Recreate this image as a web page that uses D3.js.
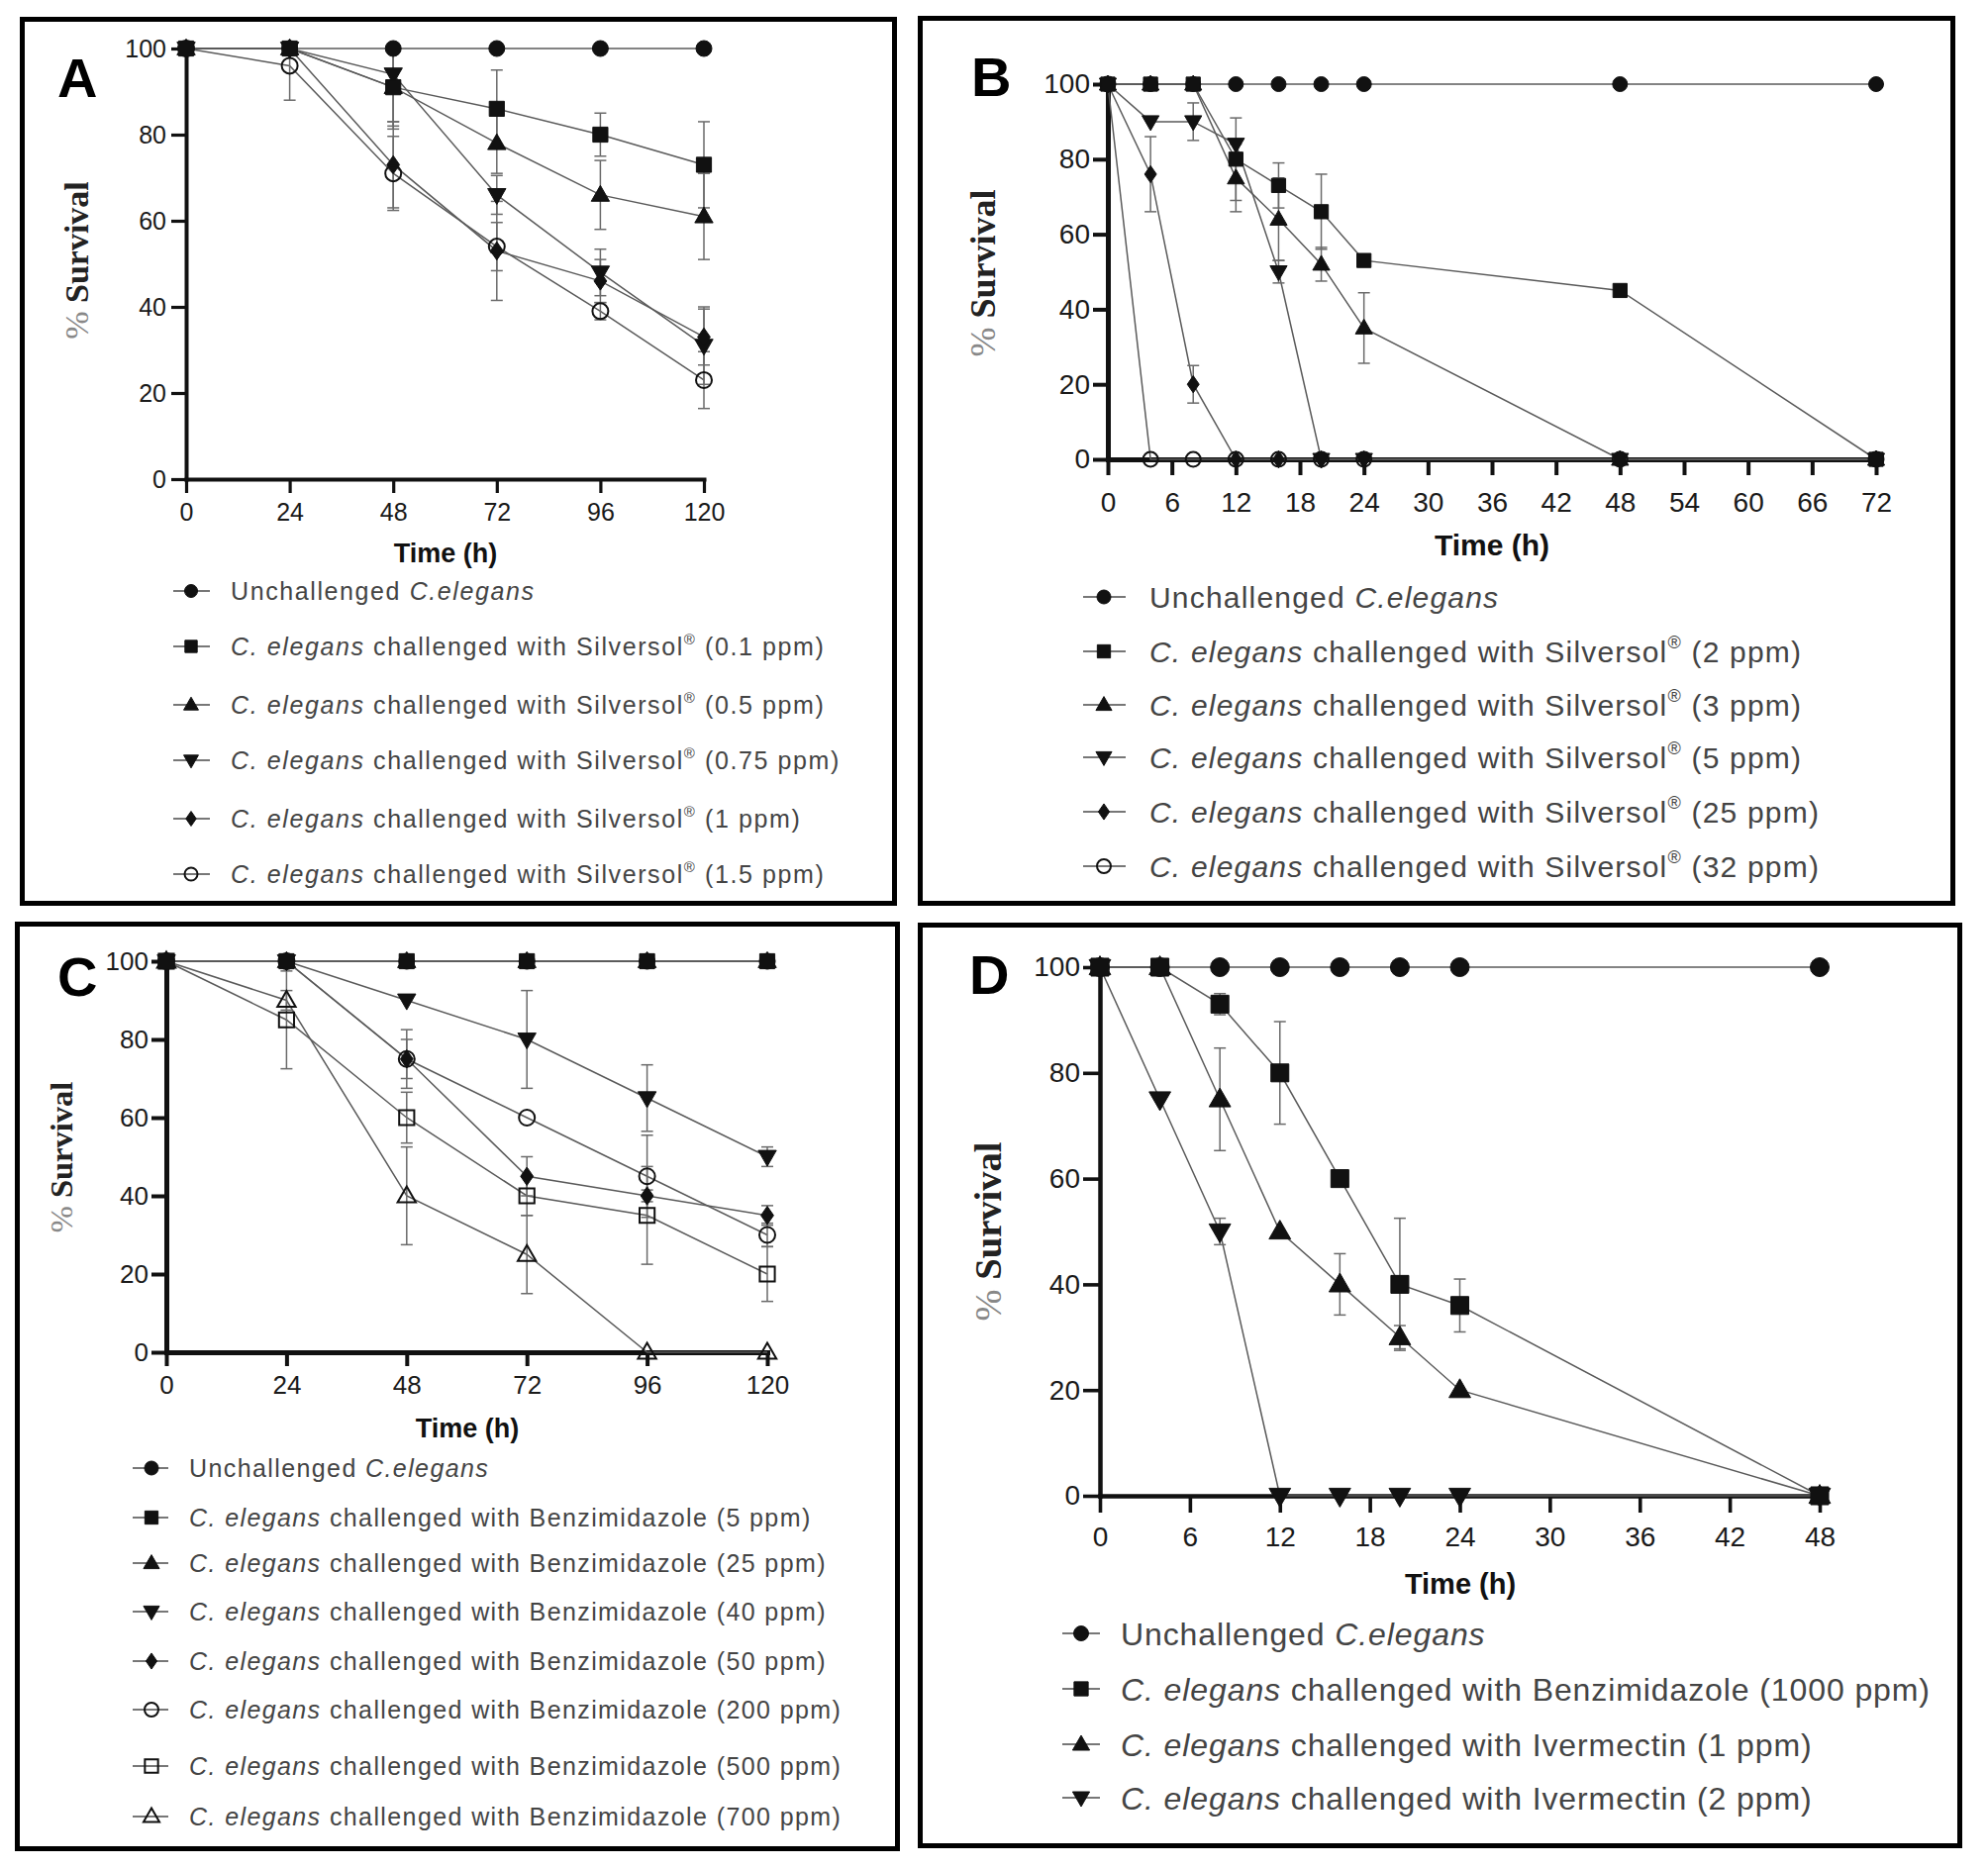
<!DOCTYPE html>
<html><head><meta charset="utf-8">
<script src="https://cdn.jsdelivr.net/npm/d3@7"></script>
<style>body{margin:0;background:#fff} svg{display:block} text{white-space:pre}</style>
</head><body>
<svg id="c" width="2008" height="1887"></svg>
<script>
// ================= DATA =================
const yTicks = [0, 20, 40, 60, 80, 100];

// Panel A
const timesA = [0, 24, 48, 72, 96, 120];
const xTicksA = [0, 24, 48, 72, 96, 120];
const labelsA = [
  "Unchallenged C.elegans",
  "C. elegans challenged with Silversol® (0.1 ppm)",
  "C. elegans challenged with Silversol® (0.5 ppm)",
  "C. elegans challenged with Silversol® (0.75 ppm)",
  "C. elegans challenged with Silversol® (1 ppm)",
  "C. elegans challenged with Silversol® (1.5 ppm)"
];
const valuesA = [
  [100, 100, 100, 100, 100, 100],
  [100, 100, 91, 86, 80, 73],
  [100, 100, 91, 78, 66, 61],
  [100, 100, 94, 66, 48, 31],
  [100, 100, 73, 53, 46, 33],
  [100, 96, 71, 54, 39, 23]
];
const errorsA = [
  [0, 0, 0, 0, 0, 0],
  [0, 0, 8, 9, 5, 10],
  [0, 0, 9, 7, 8, 10],
  [0, 0, 12.7, 4.5, 5.4, 9],
  [0, 0, 10, 11.5, 5, 6.5],
  [0, 8, 8.6, 5.6, 2, 6.6]
];

// Panel B
const timesB = [0, 4, 8, 12, 16, 20, 24, 48, 72];
const xTicksB = [0, 6, 12, 18, 24, 30, 36, 42, 48, 54, 60, 66, 72];
const labelsB = [
  "Unchallenged C.elegans",
  "C. elegans challenged with Silversol® (2 ppm)",
  "C. elegans challenged with Silversol® (3 ppm)",
  "C. elegans challenged with Silversol® (5 ppm)",
  "C. elegans challenged with Silversol® (25 ppm)",
  "C. elegans challenged with Silversol® (32 ppm)"
];
const valuesB = [
  [100, 100, 100, 100, 100, 100, 100, 100, 100],
  [100, 100, 100, 80, 73, 66, 53, 45, 0],
  [100, 100, 100, 75, 64, 52, 35, 0, 0],
  [100, 90, 90, 84, 50, 0, 0, 0, 0],
  [100, 76, 20, 0, 0, 0, 0, 0, 0],
  [100, 0, 0, 0, 0, 0, 0, 0, 0]
];
const errorsB = [
  [0, 0, 0, 0, 0, 0, 0, 0, 0],
  [0, 0, 0, 11, 6, 10, 1, 1, 0],
  [0, 0, 0, 9, 11, 4.5, 9.4, 0, 0],
  [0, 0, 5, 0, 3, 0, 0, 0, 0],
  [0, 10, 5, 0, 0, 0, 0, 0, 0],
  [0, 0, 0, 0, 0, 0, 0, 0, 0]
];

// Panel C
const timesC = [0, 24, 48, 72, 96, 120];
const xTicksC = [0, 24, 48, 72, 96, 120];
const labelsC = [
  "Unchallenged C.elegans",
  "C. elegans challenged with Benzimidazole (5 ppm)",
  "C. elegans challenged with Benzimidazole (25 ppm)",
  "C. elegans challenged with Benzimidazole (40 ppm)",
  "C. elegans challenged with Benzimidazole (50 ppm)",
  "C. elegans challenged with Benzimidazole (200 ppm)",
  "C. elegans challenged with Benzimidazole (500 ppm)",
  "C. elegans challenged with Benzimidazole (700 ppm)"
];
const valuesC = [
  [100, 100, 100, 100, 100, 100],
  [100, 100, 100, 100, 100, 100],
  [100, 100, 100, 100, 100, 100],
  [100, 100, 90, 80, 65, 50],
  [100, 100, 75, 45, 40, 35],
  [100, 100, 75, 60, 45, 30],
  [100, 85, 60, 40, 35, 20],
  [100, 90, 40, 25, 0, 0]
];
const errorsC = [
  [0, 0, 0, 0, 0, 0],
  [0, 0, 0, 0, 0, 0],
  [0, 0, 0, 0, 0, 0],
  [0, 0, 0, 12.5, 8.5, 2.5],
  [0, 0, 7.5, 5, 1.5, 2.5],
  [0, 0, 5, 0, 10.5, 3],
  [0, 12.5, 6.5, 5, 12.5, 7],
  [0, 2.5, 12.5, 10, 0, 0]
];

// Panel D
const timesD = [0, 4, 8, 12, 16, 20, 24, 48];
const xTicksD = [0, 6, 12, 18, 24, 30, 36, 42, 48];
const labelsD = [
  "Unchallenged C.elegans",
  "C. elegans challenged with Benzimidazole (1000 ppm)",
  "C. elegans challenged with Ivermectin (1 ppm)",
  "C. elegans challenged with Ivermectin (2 ppm)"
];
const valuesD = [
  [100, 100, 100, 100, 100, 100, 100, 100],
  [100, 100, 93, 80, 60, 40, 36, 0],
  [100, 100, 75, 50, 40, 30, 20, 0],
  [100, 75, 50, 0, 0, 0, 0, 0]
];
const errorsD = [
  [0, 0, 0, 0, 0, 0, 0, 0],
  [0, 0, 2, 9.7, 0, 12.5, 5, 0],
  [0, 0, 9.7, 0, 5.8, 2.2, 0, 0],
  [0, 0, 2.5, 0, 0, 0, 0, 0]
];

// ================= STYLE / LAYOUT =================
const shapesA = ["circle", "square", "triangle", "triangleDown", "diamond", "circleOpen"];
const shapesB = ["circle", "square", "triangle", "triangleDown", "diamond", "circleOpen"];
const shapesC = ["circle", "square", "triangle", "triangleDown", "diamond", "circleOpen", "squareOpen", "triangleOpen"];
const shapesD = ["circle", "square", "triangle", "triangleDown"];

const SANS = "'Liberation Sans', Arial, Helvetica, sans-serif";
const SERIF = "'Liberation Serif', 'Times New Roman', serif";

const panels = [
  { letter: "A", box: [20, 17, 906, 915], letterPos: [58, 98],
    xr: [188, 711], yr: [484, 49], xMax: 120,
    xTS: 14, xPad: 10, yTS: 15, yPad: 5, tickFs: 25, axisW: 4,
    xTitle: [450, 568, 27], yTitle: [77, 263, 34],
    leg: { line: [175, 212], mx: 193, tx: 233, rows: [597, 653, 712, 768, 827, 883], fs: 25, ls: 1.6, ms: 13 },
    ms: 16, order: [0, 2, 3, 4, 5, 1],
    times: timesA, xTicks: xTicksA, values: valuesA, errors: errorsA, shapes: shapesA, labels: labelsA },
  { letter: "B", box: [927, 16, 1975, 915], letterPos: [981, 97],
    xr: [1119, 1895], yr: [464, 85], xMax: 72,
    xTS: 16, xPad: 17, yTS: 15, yPad: 3, tickFs: 28, axisW: 5,
    xTitle: [1507, 561, 30], yTitle: [993, 276, 36],
    leg: { line: [1094, 1137], mx: 1115, tx: 1161, rows: [603, 658, 712, 765, 820, 875], fs: 30, ls: 1.2, ms: 14 },
    ms: 15, order: [0, 2, 3, 4, 5, 1],
    times: timesB, xTicks: xTicksB, values: valuesB, errors: errorsB, shapes: shapesB, labels: labelsB },
  { letter: "C", box: [15, 931, 909, 1870], letterPos: [58, 1006],
    xr: [168, 775], yr: [1366, 971], xMax: 120,
    xTS: 14, xPad: 10, yTS: 15, yPad: 3, tickFs: 26, axisW: 5,
    xTitle: [472, 1452, 27], yTitle: [62, 1169, 32.5],
    leg: { line: [134, 170], mx: 153, tx: 191, rows: [1483, 1533, 1579, 1628, 1678, 1727, 1784, 1835], fs: 25, ls: 1.4, ms: 14 },
    ms: 16, order: [0, 2, 3, 4, 5, 6, 7, 1],
    times: timesC, xTicks: xTicksC, values: valuesC, errors: errorsC, shapes: shapesC, labels: labelsC },
  { letter: "D", box: [927, 932, 1982, 1867], letterPos: [979, 1004],
    xr: [1111, 1838], yr: [1511, 977], xMax: 48,
    xTS: 17, xPad: 14, yTS: 17, yPad: 3, tickFs: 28, axisW: 4.5,
    xTitle: [1475, 1610, 29], yTitle: [998, 1244, 38.5],
    leg: { line: [1073, 1111], mx: 1092, tx: 1132, rows: [1650, 1706, 1762, 1816], fs: 32, ls: 0.9, ms: 15 },
    ms: 19, order: [0, 2, 3, 1],
    times: timesD, xTicks: xTicksD, values: valuesD, errors: errorsD, shapes: shapesD, labels: labelsD }
];

// ================= DRAW =================
const svg = d3.select("#c");
svg.append("rect").attr("width", 2008).attr("height", 1887).attr("fill", "#fff");

function symPath(shape, s) {
  const h = s / 2;
  const p = d3.path();
  if (shape.startsWith("circle")) {
    p.moveTo(h, 0); p.arc(0, 0, h, 0, 2 * Math.PI); p.closePath(); return p.toString();
  }
  if (shape.startsWith("square")) {
    const q = s * 0.95 / 2;
    return `M${-q},${-q}H${q}V${q}H${-q}Z`;
  }
  const w = s * 1.15, th = s * 1.0;
  if (shape === "triangleDown") return `M0,${th * 0.6}L${w / 2},${-th * 0.4}L${-w / 2},${-th * 0.4}Z`;
  if (shape.startsWith("triangle")) return `M0,${-th * 0.6}L${w / 2},${th * 0.4}L${-w / 2},${th * 0.4}Z`;
  if (shape === "diamond") {
    const dw = s * 0.8, dh = s * 1.15;
    return `M0,${-dh / 2}L${dw / 2},0L0,${dh / 2}L${-dw / 2},0Z`;
  }
}
function isOpen(shape) { return shape.endsWith("Open"); }

function drawMarker(g, shape, s, cx, cy) {
  g.append("path")
    .attr("d", symPath(shape, s))
    .attr("transform", `translate(${cx},${cy})`)
    .attr("fill", isOpen(shape) ? "none" : "#111")
    .attr("stroke", "#111")
    .attr("stroke-width", isOpen(shape) ? 2 : 1);
}

function legendText(t, label, fs) {
  if (label.startsWith("Unchallenged ")) {
    t.append("tspan").text("Unchallenged ");
    t.append("tspan").style("font-style", "italic").text("C.elegans");
    return;
  }
  const pre = "C. elegans";
  t.append("tspan").style("font-style", "italic").text(pre);
  const rest = label.slice(pre.length);
  const parts = rest.split("®");
  t.append("tspan").text(parts[0]);
  if (parts.length > 1) {
    t.append("tspan").attr("dy", -fs * 0.45).style("font-size", (fs * 0.6) + "px").text("®");
    t.append("tspan").attr("dy", fs * 0.45).text(parts[1]);
  }
}

panels.forEach(P => {
  const g = svg.append("g");
  const [bx0, by0, bx1, by1] = P.box;
  g.append("rect").attr("x", bx0 + 2.5).attr("y", by0 + 2.5)
    .attr("width", bx1 - bx0 - 5).attr("height", by1 - by0 - 5)
    .attr("fill", "none").attr("stroke", "#000").attr("stroke-width", 5);

  g.append("text").attr("x", P.letterPos[0]).attr("y", P.letterPos[1])
    .style("font-family", SANS).style("font-weight", "bold").style("font-size", "56px")
    .attr("fill", "#000").text(P.letter);

  const x = d3.scaleLinear().domain([0, P.xMax]).range(P.xr);
  const y = d3.scaleLinear().domain([0, 100]).range(P.yr);

  // axes
  const ax = g.append("g").attr("transform", `translate(0,${P.yr[0]})`)
    .call(d3.axisBottom(x).tickValues(P.xTicks).tickSize(P.xTS).tickPadding(P.xPad).tickSizeOuter(0).tickFormat(d3.format("d")));
  const ay = g.append("g").attr("transform", `translate(${P.xr[0]},0)`)
    .call(d3.axisLeft(y).tickValues(yTicks).tickSize(P.yTS).tickPadding(P.yPad).tickSizeOuter(0).tickFormat(d3.format("d")));
  [ax, ay].forEach(a => {
    a.select(".domain").attr("stroke", "#111").attr("stroke-width", P.axisW).attr("stroke-linecap", "square");
    a.selectAll(".tick line").attr("stroke", "#111").attr("stroke-width", P.axisW * 0.8);
    a.selectAll(".tick text").style("font-family", SANS).style("font-size", P.tickFs + "px").attr("fill", "#1a1a1a");
  });

  // x title
  g.append("text").attr("x", P.xTitle[0]).attr("y", P.xTitle[1]).attr("text-anchor", "middle")
    .style("font-family", SANS).style("font-weight", "bold").style("font-size", P.xTitle[2] + "px")
    .attr("fill", "#111").text("Time (h)");
  // y title
  const yt = g.append("text").attr("transform", `translate(${P.yTitle[0]},${P.yTitle[1]}) rotate(-90)`)
    .attr("text-anchor", "middle").attr("dominant-baseline", "central")
    .style("font-family", SERIF).style("font-size", P.yTitle[2] + "px");
  yt.append("tspan").attr("fill", "#888").text("% ");
  yt.append("tspan").attr("fill", "#222").style("font-weight", "bold").text("Survival");

  // connecting lines
  const line = d3.line().x((d, i) => x(P.times[i])).y(d => y(d));
  P.values.forEach(vals => {
    g.append("path").attr("d", line(vals)).attr("fill", "none")
      .attr("stroke", "#5a5a5a").attr("stroke-width", 1.5);
  });

  // error bars
  const cap = 6;
  P.values.forEach((vals, si) => {
    vals.forEach((v, i) => {
      const e = P.errors[si][i];
      if (!e) return;
      const cx = x(P.times[i]);
      const lo = Math.max(0, v - e), hi = Math.min(100, v + e);
      g.append("line").attr("x1", cx).attr("x2", cx).attr("y1", y(lo)).attr("y2", y(hi))
        .attr("stroke", "#6a6a6a").attr("stroke-width", 1.5);
      if (v - e >= 0) g.append("line").attr("x1", cx - cap).attr("x2", cx + cap).attr("y1", y(lo)).attr("y2", y(lo))
        .attr("stroke", "#6a6a6a").attr("stroke-width", 1.5);
      if (v + e <= 100) g.append("line").attr("x1", cx - cap).attr("x2", cx + cap).attr("y1", y(hi)).attr("y2", y(hi))
        .attr("stroke", "#6a6a6a").attr("stroke-width", 1.5);
    });
  });

  // markers
  P.order.forEach(si => {
    P.values[si].forEach((v, i) => drawMarker(g, P.shapes[si], P.ms, x(P.times[i]), y(v)));
  });

  // legend
  const L = P.leg;
  P.labels.forEach((lab, i) => {
    const ry = L.rows[i];
    g.append("line").attr("x1", L.line[0]).attr("x2", L.line[1]).attr("y1", ry).attr("y2", ry)
      .attr("stroke", "#777").attr("stroke-width", 2);
    drawMarker(g, P.shapes[i], L.ms, L.mx, ry);
    const t = g.append("text").attr("x", L.tx).attr("y", ry).attr("dy", "0.36em")
      .style("font-family", SANS).style("font-size", L.fs + "px").style("letter-spacing", L.ls + "px")
      .attr("fill", "#444");
    legendText(t, lab, L.fs);
  });
});
</script>
</body></html>
